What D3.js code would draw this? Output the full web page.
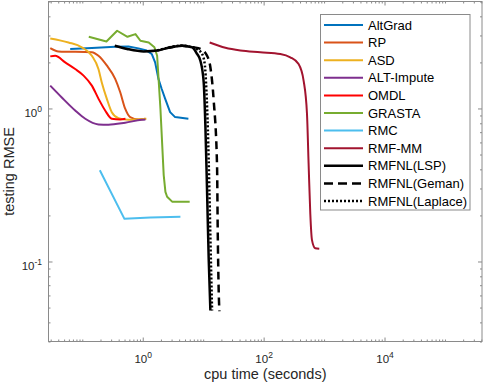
<!DOCTYPE html>
<html><head><meta charset="utf-8">
<script src="https://cdn.jsdelivr.net/npm/d3@7"></script>
<style>
body{margin:0;background:#fff;}
svg{display:block;font-family:"Liberation Sans",Arial,Helvetica,sans-serif;}
</style>
</head><body><svg id="c" width="484" height="390"></svg>
<script>
// ---- data: [cpu time (s), testing RMSE] ----
const altGrad = [[0.0631,2.45],[0.144,2.48],[0.35,2.53],[0.58,2.54],[0.849,2.47],[1.164,2.39],[1.408,2.27],[1.603,2.0],[1.818,1.56],[2.061,1.34],[2.345,1.16],[2.837,0.946],[3.432,0.878],[5.69,0.857]];
const rp = [[0.0295,2.48],[0.0404,2.36],[0.144,2.33],[0.185,2.21],[0.254,1.91],[0.35,1.56],[0.423,1.28],[0.512,0.996],[0.619,0.878],[0.849,0.848],[1.108,0.857]];
const asd = [[0.0295,2.87],[0.0591,2.70],[0.098,2.51],[0.144,2.21],[0.185,1.81],[0.21,1.48],[0.254,1.16],[0.3075,0.946],[0.397,0.865],[0.58,0.844],[1.15,0.857]];
const altImpute = [[0.0295,1.41],[0.0458,1.18],[0.0763,0.97],[0.112,0.857],[0.185,0.787],[0.271,0.783],[0.512,0.807],[0.963,0.844],[1.108,0.848]];
const omdl = [[0.0295,2.19],[0.0356,2.21],[0.0521,2.0],[0.0763,1.81],[0.105,1.64],[0.144,1.41],[0.185,1.16],[0.239,0.97],[0.3075,0.857],[0.423,0.848],[0.518,0.857]];
const grasta = [[0.128,2.94],[0.251,2.74],[0.377,3.22],[0.559,2.94],[0.758,3.06],[0.916,2.77],[1.256,2.70],[1.561,2.51],[1.73,2.21],[1.962,0.996],[2.223,0.367],[2.372,0.285],[2.531,0.265],[3.062,0.246],[5.98,0.246]];
const rmc = [[0.195,0.395],[0.498,0.19],[1.34,0.194],[4.2,0.196]];
const rmfMM = [[12.8,2.70],[23.3,2.49],[41.2,2.39],[88.2,2.33],[188.8,2.27],[276,2.16],[378.8,1.95],[458.5,1.52],[521.6,0.924],[554.6,0.437],[591.5,0.206],[631,0.138],[715,0.122],[833,0.121]];
const rmfnlLSP = [[0.344,2.57],[0.552,2.45],[1.039,2.36],[1.73,2.39],[2.531,2.48],[4.48,2.57],[6.55,2.51],[7.93,2.27],[8.99,2.05],[10.2,1.48],[10.87,0.775],[11.6,0.285],[12.33,0.105],[13.15,0.0478]];
const rmfnlGeman = [[2.531,2.48],[4.48,2.57],[6.97,2.51],[8.99,2.45],[11.6,2.21],[13.15,1.86],[14.92,1.13],[16.98,0.415],[17.36,0.173],[18.04,0.0655],[18.53,0.0473]];
const rmfnlLaplace = [[1.73,2.39],[4.48,2.57],[6.55,2.51],[8.18,2.42],[9.7,2.25],[10.67,1.91],[11.3,1.31],[11.96,0.719],[12.66,0.293],[13.4,0.103],[14.03,0.0478]];

const seriesNames = ["AltGrad","RP","ASD","ALT-Impute","OMDL","GRASTA","RMC","RMF-MM","RMFNL(LSP)","RMFNL(Geman)","RMFNL(Laplace)"];
const seriesData = [altGrad, rp, asd, altImpute, omdl, grasta, rmc, rmfMM, rmfnlLSP, rmfnlGeman, rmfnlLaplace];
const xMajorExponents = [0, 2, 4];
const yMajorExponents = [-1, 0];
const xLabel = "cpu time (seconds)";
const yLabel = "testing RMSE";

// ---- styles ----
const seriesColors = ["#0072BD","#D95319","#EDB120","#7E2F8E","#FF0000","#77AC30","#4DBEEE","#A2142F","#000000","#000000","#000000"];
const seriesDash = [null,null,null,null,null,null,null,null,null,"8,5","2,2"];
const seriesWidth = [2,2,2,2,2,2,2,2,2.5,2.5,2.5];
const seriesCurve = [d3.curveLinear,d3.curveMonotoneX,d3.curveMonotoneX,d3.curveMonotoneX,d3.curveMonotoneX,d3.curveLinear,d3.curveLinear,d3.curveMonotoneX,d3.curveMonotoneX,d3.curveMonotoneX,d3.curveMonotoneX];

const L = 48.5, R = 482, T = 1.5, B = 341.5;
const axisColor = "#8a8a8a", textColor = "#262626";

const svg = d3.select("#c");
const x = d3.scaleLog().domain([0.0276, 4.1e5]).range([L, R]);
const y = d3.scaleLog().domain([0.03, 5]).range([B, T]);

function minorTicks(dom, majors) {
  const out = [];
  for (let k = -3; k <= 7; k++) for (let m = 1; m <= 9; m++) {
    const v = m * Math.pow(10, k);
    if (v >= dom[0] && v <= dom[1] && !(m === 1 && majors.includes(k))) out.push(+v.toPrecision(3));
  }
  return out;
}
const xMajor = xMajorExponents.map(e => Math.pow(10, e));
const yMajor = yMajorExponents.map(e => Math.pow(10, e));
const xMinor = minorTicks(x.domain(), xMajorExponents);
const yMinor = minorTicks(y.domain(), yMajorExponents);

// clip
svg.append("defs").append("clipPath").attr("id","clip")
  .append("rect").attr("x",L).attr("y",T).attr("width",R-L).attr("height",B-T);

// lines
const plot = svg.append("g").attr("clip-path","url(#clip)");
seriesData.forEach((d, i) => {
  const line = d3.line().x(p => x(p[0])).y(p => y(p[1])).curve(seriesCurve[i]);
  plot.append("path").attr("d", line(d)).attr("fill","none")
    .attr("stroke", seriesColors[i]).attr("stroke-width", seriesWidth[i])
    .attr("stroke-dasharray", seriesDash[i]).attr("stroke-linejoin","round");
});

// axes
function styleAxis(g) {
  g.select(".domain").remove();
  g.selectAll(".tick line").attr("stroke", axisColor);
}
function addSup(sel) {
  sel.selectAll(".tick text").each(function(d) {
    const t = d3.select(this);
    t.text(null).attr("fill", textColor).attr("font-size", 11.5);
    t.append("tspan").text("10");
    t.append("tspan").attr("font-size", 8.5).attr("dy", -5).text(String(Math.round(Math.log10(d))));
  });
}
// bottom
const gxB = svg.append("g").attr("transform",`translate(0,${B})`)
  .call(d3.axisBottom(x).tickValues(xMajor).tickSize(-4).tickPadding(0)).call(styleAxis);
gxB.selectAll(".tick text").attr("y", 21.5).attr("dy", null).attr("text-anchor","middle");
addSup(gxB);
svg.append("g").attr("transform",`translate(0,${B})`)
  .call(d3.axisBottom(x).tickValues(xMinor).tickSize(-2).tickFormat("")).call(styleAxis);
// top
svg.append("g").attr("transform",`translate(0,${T})`)
  .call(d3.axisTop(x).tickValues(xMajor).tickSize(-4).tickFormat("")).call(styleAxis);
svg.append("g").attr("transform",`translate(0,${T})`)
  .call(d3.axisTop(x).tickValues(xMinor).tickSize(-2).tickFormat("")).call(styleAxis);
// left
const gyL = svg.append("g").attr("transform",`translate(${L},0)`)
  .call(d3.axisLeft(y).tickValues(yMajor).tickSize(-4)).call(styleAxis);
gyL.selectAll(".tick text").attr("x", -6.5).attr("y", 8.3).attr("dy", null).attr("text-anchor","end");
addSup(gyL);
svg.append("g").attr("transform",`translate(${L},0)`)
  .call(d3.axisLeft(y).tickValues(yMinor).tickSize(-2).tickFormat("")).call(styleAxis);
// right
svg.append("g").attr("transform",`translate(${R},0)`)
  .call(d3.axisRight(y).tickValues(yMajor).tickSize(-4).tickFormat("")).call(styleAxis);
svg.append("g").attr("transform",`translate(${R},0)`)
  .call(d3.axisRight(y).tickValues(yMinor).tickSize(-2).tickFormat("")).call(styleAxis);

// box
svg.append("rect").attr("x",L).attr("y",T).attr("width",R-L).attr("height",B-T)
  .attr("fill","none").attr("stroke",axisColor).attr("stroke-width",1);

// axis labels
svg.append("text").attr("x",(L+R)/2).attr("y",378.5).attr("text-anchor","middle")
  .attr("font-size",14.5).attr("fill",textColor).text(xLabel);
svg.append("text").attr("transform",`translate(13.5,${(T+B)/2}) rotate(-90)`).attr("text-anchor","middle")
  .attr("font-size",14.5).attr("fill",textColor).text(yLabel);

// legend
const lg = svg.append("g");
lg.append("rect").attr("x",320.5).attr("y",14.5).attr("width",149.5).attr("height",195.5)
  .attr("fill","#fff").attr("stroke",axisColor).attr("stroke-width",1);
seriesNames.forEach((name, i) => {
  const yy = 25 + i * 17.6;
  lg.append("line").attr("x1",324).attr("x2",363).attr("y1",yy).attr("y2",yy)
    .attr("stroke",seriesColors[i]).attr("stroke-width",seriesWidth[i])
    .attr("stroke-dasharray", seriesDash[i] === "8,5" ? "9,5" : seriesDash[i]);
  lg.append("text").attr("x",368).attr("y",yy+4.5).attr("font-size",13)
    .attr("fill","#000").text(name);
});
</script></body></html>
